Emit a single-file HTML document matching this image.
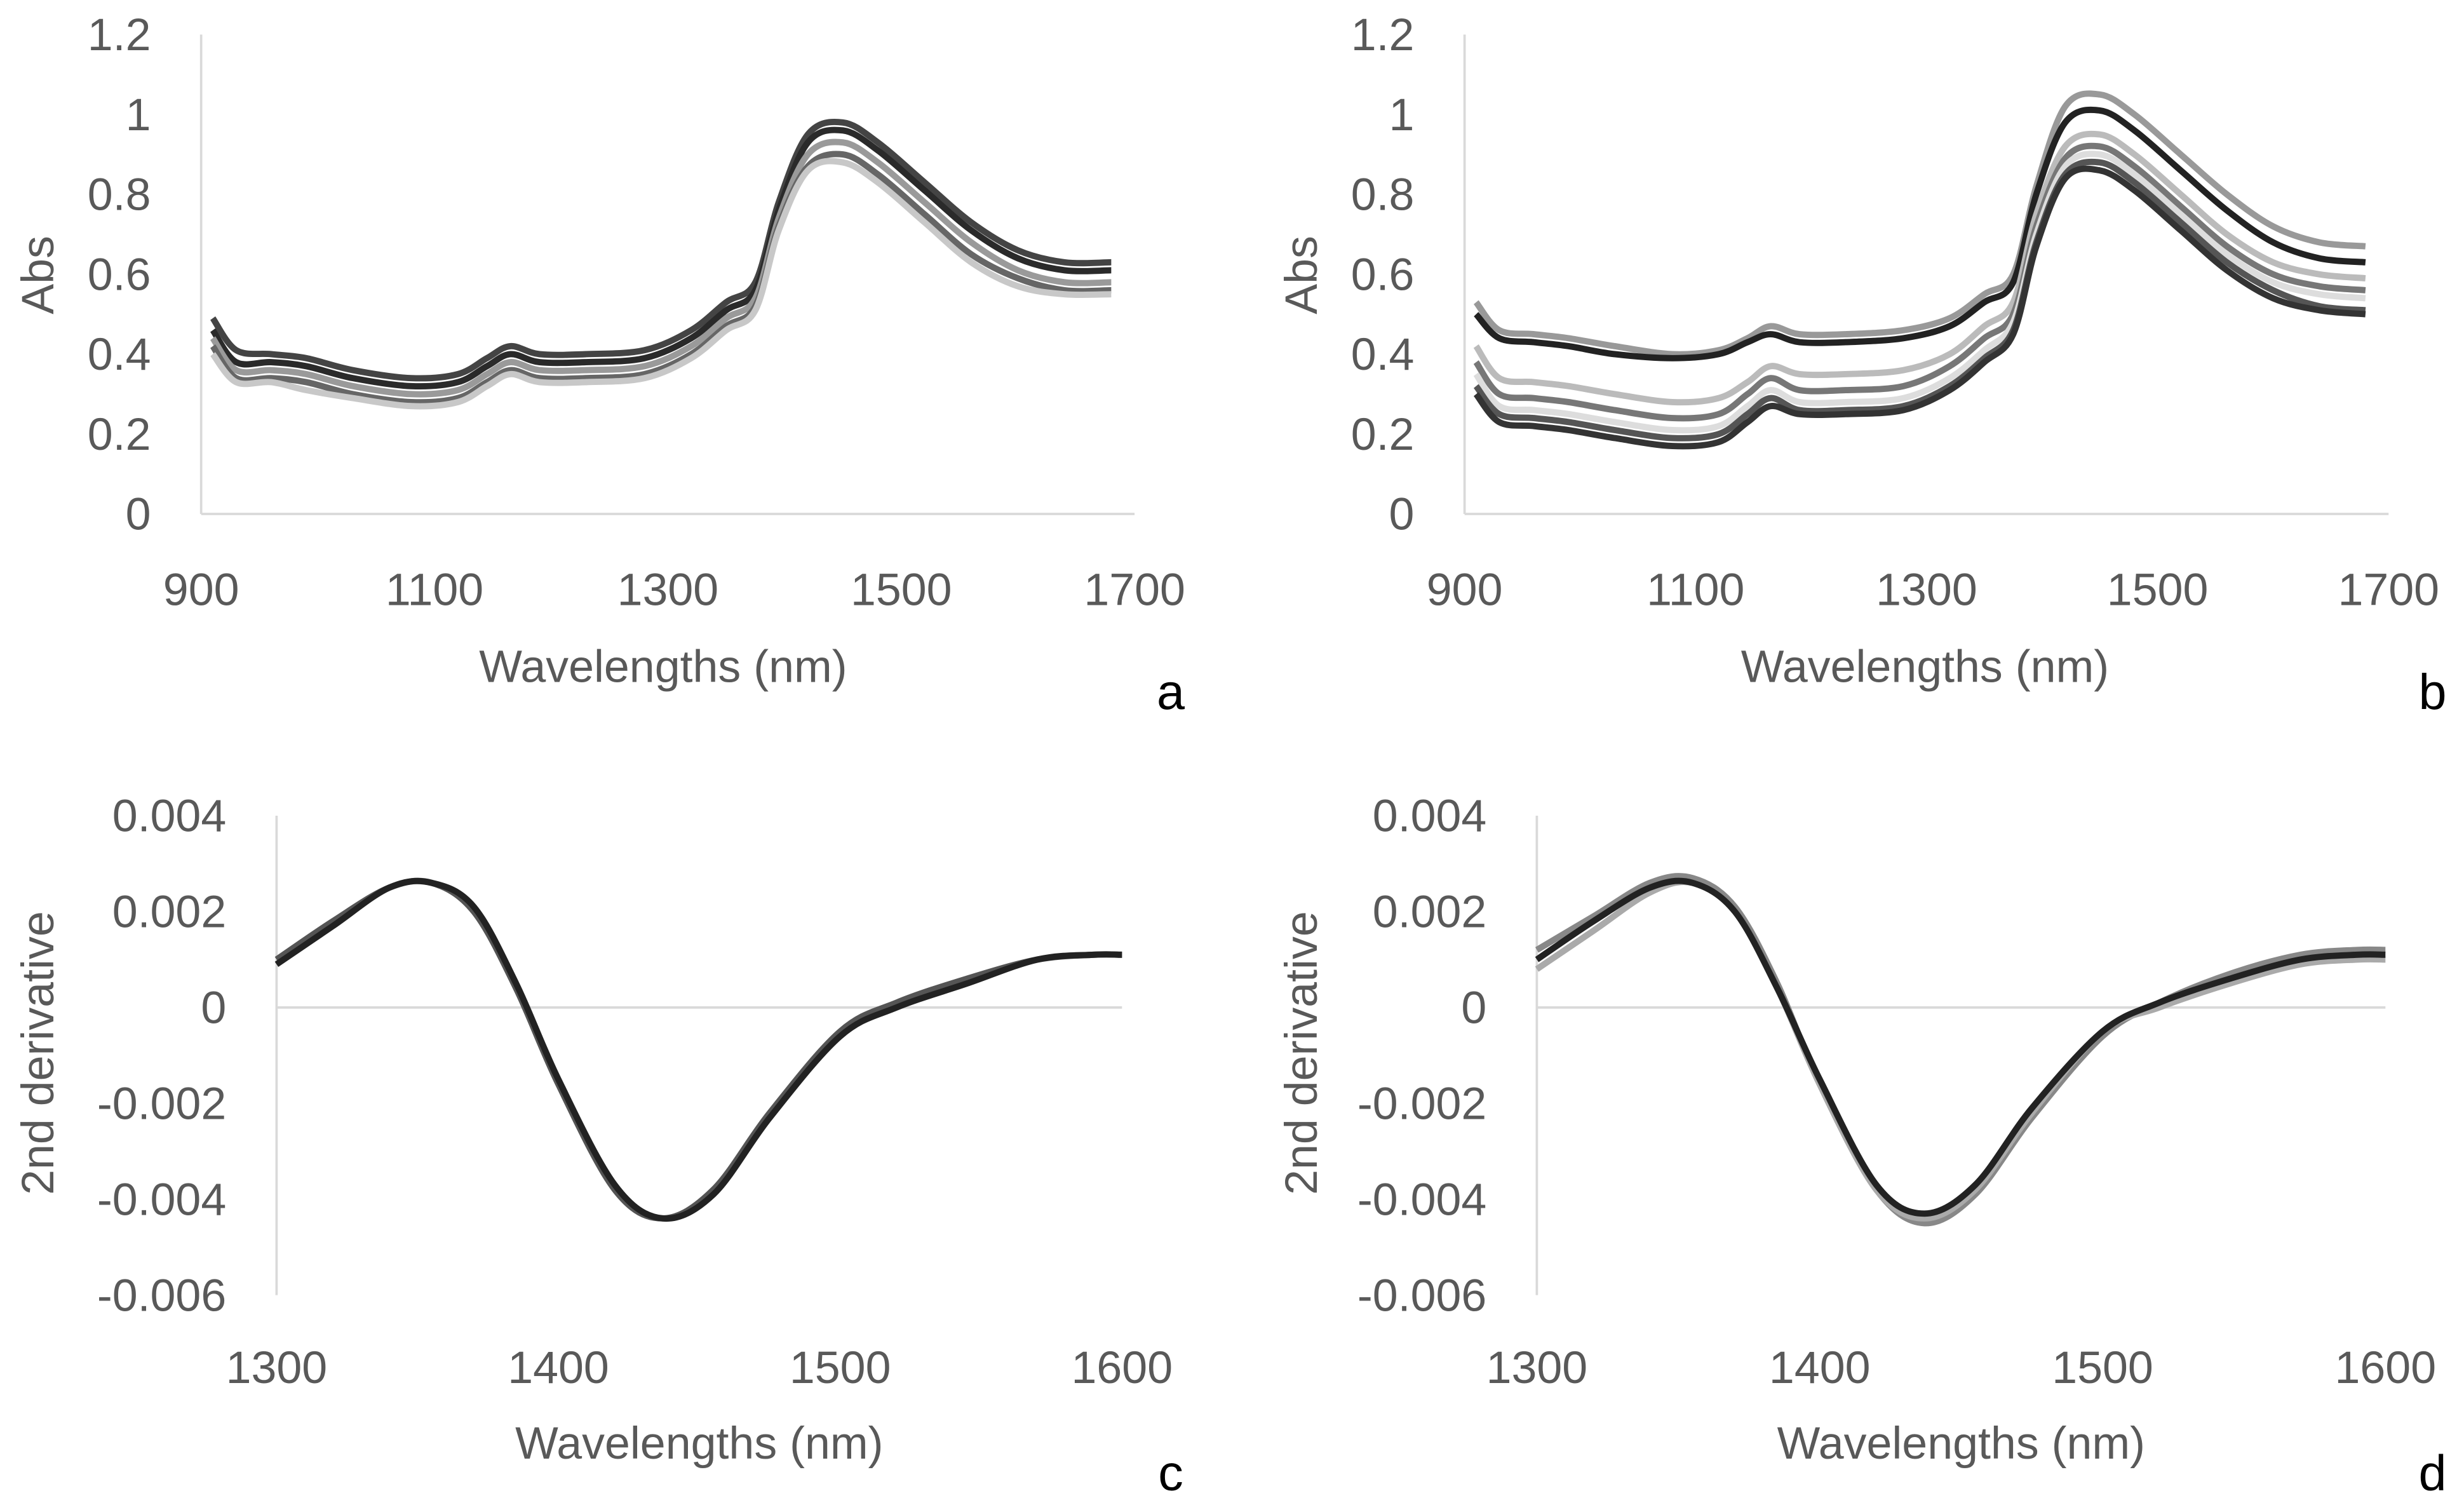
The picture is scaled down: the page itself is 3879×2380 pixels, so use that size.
<!DOCTYPE html>
<html><head><meta charset="utf-8">
<style>
html,body{margin:0;padding:0;background:#fff;}
svg{display:block;font-family:"Liberation Sans",sans-serif;}
</style></head>
<body>
<svg id="chart" width="3879" height="2380" viewBox="0 0 1568 962" preserveAspectRatio="none" xmlns="http://www.w3.org/2000/svg"></svg>
<script>
// ---- data ----
const W1 = [910,930,960,990,1030,1080,1120,1145,1165,1190,1230,1280,1320,1350,1375,1395,1420,1450,1480,1520,1560,1600,1640,1680];
const seriesA1 = [0.49,0.41,0.40,0.39,0.36,0.34,0.35,0.39,0.42,0.40,0.40,0.41,0.46,0.53,0.58,0.78,0.95,0.98,0.93,0.83,0.73,0.66,0.63,0.63];
const seriesA2 = [0.46,0.38,0.38,0.37,0.34,0.32,0.33,0.37,0.40,0.38,0.38,0.39,0.44,0.51,0.56,0.76,0.93,0.96,0.91,0.81,0.71,0.64,0.61,0.61];
const seriesA3 = [0.44,0.36,0.36,0.35,0.32,0.30,0.31,0.35,0.38,0.36,0.36,0.37,0.42,0.49,0.54,0.74,0.90,0.93,0.88,0.78,0.68,0.61,0.58,0.58];
const seriesA4 = [0.42,0.34,0.34,0.33,0.30,0.28,0.29,0.33,0.36,0.34,0.34,0.35,0.40,0.47,0.52,0.72,0.87,0.90,0.85,0.75,0.65,0.59,0.56,0.56];
const seriesA5 = [0.40,0.33,0.33,0.31,0.29,0.27,0.28,0.32,0.35,0.33,0.33,0.34,0.39,0.46,0.51,0.71,0.86,0.88,0.83,0.73,0.63,0.57,0.55,0.55];
const seriesB1 = [0.53,0.46,0.45,0.44,0.42,0.40,0.41,0.44,0.47,0.45,0.45,0.46,0.49,0.55,0.60,0.82,1.02,1.05,1.00,0.90,0.80,0.72,0.68,0.67];
const seriesB2 = [0.50,0.44,0.43,0.42,0.40,0.39,0.40,0.43,0.45,0.43,0.43,0.44,0.47,0.53,0.58,0.80,0.98,1.01,0.96,0.86,0.76,0.68,0.64,0.63];
const seriesB3 = [0.42,0.34,0.33,0.32,0.30,0.28,0.29,0.33,0.37,0.35,0.35,0.36,0.40,0.47,0.53,0.75,0.92,0.95,0.90,0.80,0.70,0.63,0.60,0.59];
const seriesB4 = [0.38,0.30,0.29,0.28,0.26,0.24,0.25,0.30,0.34,0.31,0.31,0.32,0.37,0.44,0.50,0.72,0.89,0.92,0.87,0.77,0.67,0.60,0.57,0.56];
const seriesB5 = [0.35,0.27,0.26,0.25,0.23,0.21,0.22,0.27,0.31,0.28,0.28,0.29,0.34,0.41,0.48,0.70,0.87,0.90,0.85,0.75,0.65,0.58,0.55,0.54];
const seriesB6 = [0.32,0.25,0.24,0.23,0.21,0.19,0.20,0.25,0.29,0.26,0.26,0.27,0.32,0.39,0.46,0.68,0.85,0.88,0.83,0.73,0.63,0.56,0.52,0.51];
const seriesB7 = [0.30,0.23,0.22,0.21,0.19,0.17,0.18,0.23,0.27,0.25,0.25,0.26,0.31,0.38,0.45,0.67,0.84,0.86,0.81,0.71,0.61,0.54,0.51,0.50];
const W2 = [1300,1320,1340,1355,1370,1385,1400,1420,1437,1455,1475,1500,1520,1545,1570,1590,1600];
const seriesC1 = [0.0010,0.0018,0.0025,0.0026,0.0020,0.0004,-0.0016,-0.0038,-0.0044,-0.0038,-0.0022,-0.0005,0.0001,0.0006,0.0010,0.0011,0.0011];
const seriesC2 = [0.0009,0.0017,0.0025,0.0026,0.0021,0.0005,-0.0015,-0.0037,-0.0044,-0.0039,-0.0023,-0.0006,0.0000,0.0005,0.0010,0.0011,0.0011];
const seriesD1 = [0.0012,0.0019,0.0026,0.0027,0.0021,0.0005,-0.0016,-0.0038,-0.0045,-0.0039,-0.0023,-0.0006,0.0001,0.0007,0.0011,0.0012,0.0012];
const seriesD2 = [0.0008,0.0016,0.0024,0.0026,0.0020,0.0004,-0.0016,-0.0038,-0.0044,-0.0038,-0.0022,-0.0005,0.0000,0.0005,0.0009,0.0010,0.0010];
const seriesD3 = [0.0010,0.0018,0.0025,0.0026,0.0020,0.0004,-0.0015,-0.0037,-0.0043,-0.0037,-0.0021,-0.0005,0.0001,0.0006,0.0010,0.0011,0.0011];
const xTicksAB = [900,1100,1300,1500,1700];
const yTicksAB = [0,0.2,0.4,0.6,0.8,1,1.2];
const xTicksCD = [1300,1400,1500,1600];
const yTicksCD = [-0.006,-0.004,-0.002,0,0.002,0.004];

const svg = document.getElementById('chart');
const NS = 'http://www.w3.org/2000/svg';
function mk(tag, attrs, parent){ const e=document.createElementNS(NS,tag); for(const k in attrs) e.setAttribute(k,attrs[k]); (parent||svg).appendChild(e); return e; }
function smooth(pts){
  let d='M'+pts[0][0]+','+pts[0][1];
  for(let i=0;i<pts.length-1;i++){
    const p0=pts[Math.max(0,i-1)],p1=pts[i],p2=pts[i+1],p3=pts[Math.min(pts.length-1,i+2)];
    const c1=[p1[0]+(p2[0]-p0[0])/6,p1[1]+(p2[1]-p0[1])/6];
    const c2=[p2[0]-(p3[0]-p1[0])/6,p2[1]-(p3[1]-p1[1])/6];
    d+=' C'+c1[0].toFixed(2)+','+c1[1].toFixed(2)+' '+c2[0].toFixed(2)+','+c2[1].toFixed(2)+' '+p2[0].toFixed(2)+','+p2[1].toFixed(2);
  }
  return d;
}
function panel(cfg){
  const g=mk('g',{});
  
  
  const sx=v=>cfg.x0+(v-cfg.xmin)/(cfg.xmax-cfg.xmin)*(cfg.x1-cfg.x0);
  const sy=v=>cfg.y0-(v-cfg.ymin)/(cfg.ymax-cfg.ymin)*(cfg.y0-cfg.y1);
  const ya=mk('line',{x1:sx(cfg.xmin),x2:sx(cfg.xmin),y1:sy(cfg.ymax),y2:sy(cfg.ymin),stroke:'#d9d9d9','stroke-width':1.5},g);
  
  
  const xa=mk('line',{x1:sx(cfg.xmin),x2:sx(cfg.xmax),y1:sy(0),y2:sy(0),stroke:'#d9d9d9','stroke-width':1.5},g);
  
  
  cfg.yt.forEach(v=>{
    const t=mk('text',{x:cfg.x0-32,y:sy(v)+10,'text-anchor':'end','font-size':29,fill:'#595959'},g);
    t.textContent=String(v);
    
    
  });
  cfg.xt.forEach(v=>{
    const t=mk('text',{x:sx(v),y:cfg.xtY,'text-anchor':'middle','font-size':29,fill:'#595959'},g);
    t.textContent=String(v);
    
    
  });
  cfg.series.forEach((s,i)=>{
    const pts=cfg.w.map((w,j)=>[sx(w),sy(s[j])]);
    const p=mk('path',{d:smooth(pts),fill:'none',stroke:cfg.colors[i],'stroke-width':4,'stroke-linejoin':'round'},g);
    
    
  });
  const xtit=mk('text',{x:cfg.xtitX,y:cfg.xtitY,'text-anchor':'middle','font-size':29,fill:'#595959'},g);
  xtit.textContent='Wavelengths (nm)';
  
  
  const ytit=mk('text',{x:0,y:0,transform:'translate('+cfg.ytitX+','+cfg.ytitY+') rotate(-90)','text-anchor':'middle','font-size':29,fill:'#595959'},g);
  ytit.textContent=cfg.ytitle;
  
  
  const lab=mk('text',{x:cfg.labX,y:cfg.labY,'text-anchor':'middle','font-size':32,fill:'#000'},g);
  lab.textContent=cfg.label;
  
  
}
const colA=['#444','#2a2a2a','#9a9a9a','#666','#c8c8c8'];
const colB=['#999','#222','#bbb','#777','#ddd','#555','#333'];
panel({name:'panel-a',x0:128,x1:722,y0:327,y1:22,xmin:900,xmax:1700,ymin:0,ymax:1.2,yt:yTicksAB,xt:xTicksAB,xtY:385,w:W1,
  series:[seriesA1,seriesA2,seriesA3,seriesA4,seriesA5],colors:colA,xtitX:422,xtitY:434,ytitX:34,ytitY:175,ytitle:'Abs',label:'a',labX:745,labY:451});
panel({name:'panel-b',x0:932,x1:1520,y0:327,y1:22,xmin:900,xmax:1700,ymin:0,ymax:1.2,yt:yTicksAB,xt:xTicksAB,xtY:385,w:W1,
  series:[seriesB1,seriesB2,seriesB3,seriesB4,seriesB5,seriesB6,seriesB7],colors:colB,xtitX:1225,xtitY:434,ytitX:838,ytitY:175,ytitle:'Abs',label:'b',labX:1548,labY:451});
panel({name:'panel-c',x0:176,x1:714,y0:824,y1:519,xmin:1300,xmax:1600,ymin:-0.006,ymax:0.004,yt:yTicksCD,xt:xTicksCD,xtY:880,w:W2,
  series:[seriesC1,seriesC2],colors:['#555','#222'],xtitX:445,xtitY:928,ytitX:34,ytitY:670,ytitle:'2nd derivative',label:'c',labX:745,labY:948});
panel({name:'panel-d',x0:978,x1:1518,y0:824,y1:519,xmin:1300,xmax:1600,ymin:-0.006,ymax:0.004,yt:yTicksCD,xt:xTicksCD,xtY:880,w:W2,
  series:[seriesD1,seriesD2,seriesD3],colors:['#888','#aaa','#222'],xtitX:1248,xtitY:928,ytitX:838,ytitY:670,ytitle:'2nd derivative',label:'d',labX:1548,labY:948});
</script>
</body></html>
